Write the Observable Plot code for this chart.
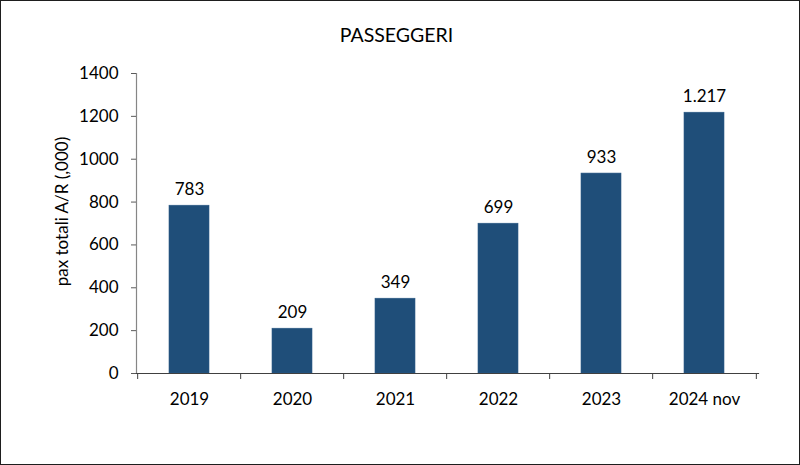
<!DOCTYPE html>
<html>
<head>
<meta charset="utf-8">
<script src="https://cdn.jsdelivr.net/npm/d3@7"></script>
<script src="https://cdn.jsdelivr.net/npm/@observablehq/plot@0.6"></script>
<style>
  html, body { margin: 0; padding: 0; background: #fff; }
  #wrap { position: relative; width: 800px; height: 465px; overflow: hidden; }
  #wrap svg { position: absolute; left: 0; top: 0; }
  #border { position: absolute; left: 0; top: 0; width: 800px; height: 465px; box-sizing: border-box; border: 1px solid #1e1e1e; pointer-events: none; }
</style>
</head>
<body>
<div id="wrap"><div id="border"></div></div>
<script>
const years = ["2019", "2020", "2021", "2022", "2023", "2024 nov"];
const passengers = [783, 209, 349, 699, 933, 1217];
const valueLabels = ["783", "209", "349", "699", "933", "1.217"];
const yTicks = [0, 200, 400, 600, 800, 1000, 1200, 1400];
const title = "PASSEGGERI";
const yLabel = "pax totali A/R (,000)";

const data = years.map((y, i) => ({year: y, value: passengers[i], label: valueLabels[i]}));

const W = 800, H = 465;
const mL = 136, mR = 42, mT = 73, mB = 92;
const step = (W - mL - mR) / years.length;
const font = "Lato, 'Open Sans', sans-serif";
const fs = 17;

const chart = Plot.plot({
  width: W,
  height: H,
  marginLeft: mL,
  marginRight: mR,
  marginTop: mT,
  marginBottom: mB,
  style: {background: "transparent", fontFamily: font, fontSize: fs + "px", color: "#000", overflow: "visible"},
  x: {domain: years, paddingInner: 0.61, paddingOuter: 0.305, align: 0.5, axis: null},
  y: {domain: [0, 1400], axis: null},
  marks: [
    Plot.barY(data, {x: "year", y: "value", fill: "#1f4e79", stroke: "#2c5a86", strokeWidth: 0.6}),
    // y axis line
    Plot.frame({anchor: "left", stroke: "#868686", strokeWidth: 1.2}),
    // y ticks + labels
    Plot.axisY({ticks: yTicks, tickSize: 5, tickPadding: 13, tickFormat: d => String(d), stroke: "#5a5a5a", fill: "#000", fontSize: fs, label: null}),
    // x baseline
    Plot.frame({anchor: "bottom", stroke: "#404040", strokeWidth: 1.2}),
    // x ticks at band edges
    Plot.axisX({ticks: years, tickSize: 6, tickFormat: () => "", dx: -step / 2, stroke: "#404040", label: null}),
    Plot.axisX({ticks: [years[years.length - 1]], tickSize: 6, tickFormat: () => "", dx: step / 2, stroke: "#404040", label: null}),
    // x labels
    Plot.axisX({ticks: years, tickSize: 0, tickPadding: 19, fontSize: fs, fill: "#000", label: null}),
    // value labels
    Plot.text(data, {x: "year", y: "value", text: "label", lineAnchor: "bottom", dy: -11, fontSize: fs, fill: "#000"}),
    // title
    Plot.text([title], {frameAnchor: "top", dx: W / 2 - (mL + (W - mL - mR) / 2) - 4, dy: -38, text: d => d, fontSize: 19.5, lineAnchor: "middle", textAnchor: "middle", fill: "#000"}),
    // y label
    Plot.text([yLabel], {frameAnchor: "left", dx: -74, dy: -12, rotate: -90, text: d => d, fontSize: fs, lineAnchor: "middle", textAnchor: "middle", fill: "#000"})
  ]
});

document.getElementById("wrap").insertBefore(chart, document.getElementById("border"));
</script>
</body>
</html>
